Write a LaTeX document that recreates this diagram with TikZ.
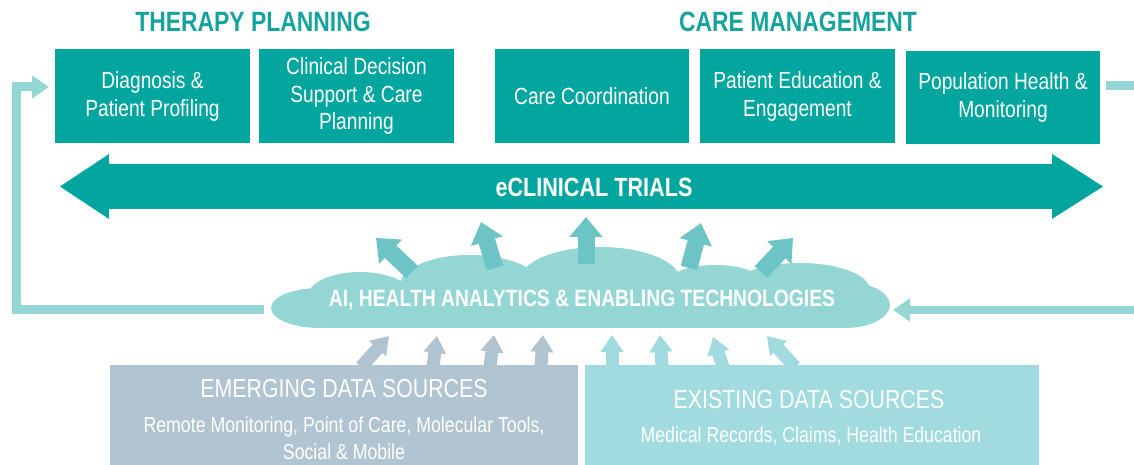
\documentclass[tikz,border=0pt]{standalone}
\usepackage{fontspec}
\setmainfont[FakeStretch=0.82]{Liberation Sans}
\usetikzlibrary{arrows.meta}
\definecolor{tealD}{HTML}{02A69F}
\definecolor{headC}{HTML}{16A39D}
\definecolor{cloudC}{HTML}{94D6D3}
\definecolor{upC}{HTML}{6CC5C4}
\definecolor{greyC}{HTML}{B0C4D1}
\definecolor{greyA}{HTML}{AFC3D0}
\definecolor{ltealC}{HTML}{A1DBDF}
\tikzset{
  heading/.style={text=headC, font=\fontsize{15.9}{19}\selectfont\bfseries, inner sep=0pt},
  topbox/.style={fill=tealD, text=white, minimum width=3.9cm, minimum height=1.88cm,
    inner sep=0pt, outer sep=0pt, align=center, font=\fontsize{13.3}{15.9}\selectfont},
  srcbox/.style={minimum height=2cm, inner sep=0pt, outer sep=0pt},
  srctitle/.style={text=white, font=\fontsize{14.8}{17}\selectfont, inner sep=0pt},
  srcsub/.style={text=white, font=\fontsize{12.3}{15.4}\selectfont, align=center, inner sep=0pt},
  feedback/.style={draw=cloudC, line width=0.18cm, line join=miter},
  fbtip/.style={-{Triangle[width=0.44cm,length=0.34cm]}},
  uparrow/.style={draw=upC, line width=0.34cm, -{Triangle[width=0.64cm,length=0.4cm]}},
  inarrow/.style={line width=0.26cm, -{Triangle[width=0.44cm,length=0.34cm]}},
}
\begin{document}
\begin{tikzpicture}[x=0.02cm,y=-0.02cm]
\useasboundingbox (0,0) rectangle (1134,465);

% headings
\node[heading] (hTP) at (253,22) {THERAPY PLANNING};
\node[heading] (hCM) at (798,22) {CARE MANAGEMENT};

% top boxes
\node[topbox] (b1) at (152.5,96) {Diagnosis \&\\Patient Profiling};
\node[topbox] (b2) at (356.5,96) {Clinical Decision\\Support \& Care\\Planning};
\node[topbox] (b3) at (592,96) {Care Coordination};
\node[topbox] (b4) at (797.5,96) {Patient Education \&\\Engagement};
\node[topbox] (b5) at (1003,97.5) {Population Health \&\\Monitoring};

% big double arrow
\fill[tealD] (60,186.5) -- (109,154) -- (109,164) -- (1052,164) -- (1052,154)
  -- (1103,186.5) -- (1052,219) -- (1052,209) -- (109,209) -- (109,219) -- cycle;
\node[text=white, font=\fontsize{15}{18}\selectfont\bfseries, inner sep=0pt] (trials) at (594,187) {eCLINICAL TRIALS};

% cloud
\fill[cloudC] (320,308) ellipse [x radius=49, y radius=20];
\fill[cloudC] (845,305) ellipse [x radius=45, y radius=23];
\fill[cloudC] (320,290) rectangle (845,328);
\fill[cloudC] (360,296) ellipse [x radius=52, y radius=24];
\fill[cloudC] (470,285) ellipse [x radius=70, y radius=30];
\fill[cloudC] (600,280) ellipse [x radius=80, y radius=33];
\fill[cloudC] (715,285) ellipse [x radius=50, y radius=20];
\fill[cloudC] (800,290) ellipse [x radius=70, y radius=27];
\node[text=white, font=\fontsize{13.4}{15}\selectfont\bfseries, inner sep=0pt] (cloud) at (582,300) {AI, HEALTH ANALYTICS \& ENABLING TECHNOLOGIES};

% up arrows out of the cloud
\coordinate (u1s) at (412,272); \coordinate (u1e) at (376,238);
\coordinate (u2s) at (495,268); \coordinate (u2e) at (481,222);
\coordinate (u3s) at (586,264); \coordinate (u3e) at (586,217);
\coordinate (u4s) at (689,268); \coordinate (u4e) at (701,223);
\coordinate (u5s) at (761,272); \coordinate (u5e) at (793,238);
\foreach \i in {1,...,5} { \draw[uparrow] (u\i s) -- (u\i e); }

% feedback loops
\coordinate (fbLs) at (264,310);
\coordinate (fbLc1) at (16.5,310);
\coordinate (fbLc2) at (16.5,87);
\coordinate (fbLe) at (49,87);
\draw[feedback, fbtip] (fbLs) -- (fbLc1) -- (fbLc2) -- (fbLe);
\coordinate (fbRs) at (1134,310);
\coordinate (fbRe) at (893,310);
\draw[feedback, line width=0.16cm, fbtip] (fbRs) -- (fbRe);
\coordinate (fbTs) at (1106,85.5);
\coordinate (fbTe) at (1134,85.5);
\draw[feedback] (fbTs) -- (fbTe);

% arrows from data sources
\coordinate (a1s) at (361,367); \coordinate (a1e) at (389,336);
\coordinate (a2s) at (433,367); \coordinate (a2e) at (437,336);
\coordinate (a3s) at (490,367); \coordinate (a3e) at (494,335);
\coordinate (a4s) at (541,367); \coordinate (a4e) at (543,335);
\coordinate (a5s) at (612,367); \coordinate (a5e) at (612,335);
\coordinate (a6s) at (662,367); \coordinate (a6e) at (660,335);
\coordinate (a7s) at (723,367); \coordinate (a7e) at (713,337);
\coordinate (a8s) at (795,367); \coordinate (a8e) at (767,336);
\foreach \i in {1,...,4} { \draw[inarrow, draw=greyA] (a\i s) -- (a\i e); }
\foreach \i in {5,...,8} { \draw[inarrow, draw=ltealC] (a\i s) -- (a\i e); }

% data source boxes
\node[srcbox, fill=greyC, minimum width=9.36cm] (emerg) at (344,415) {};
\node[srcbox, fill=ltealC, minimum width=9.08cm] (exist) at (812,415) {};
\node[srctitle] (emT) at (344,389) {EMERGING DATA SOURCES};
\node[srcsub] (emS) at (344,438) {Remote Monitoring, Point of Care, Molecular Tools,\\Social \& Mobile};
\node[srctitle] (exT) at (809,400) {EXISTING DATA SOURCES};
\node[srcsub] (exS) at (811,436) {Medical Records, Claims, Health Education};
\end{tikzpicture}
\end{document}
